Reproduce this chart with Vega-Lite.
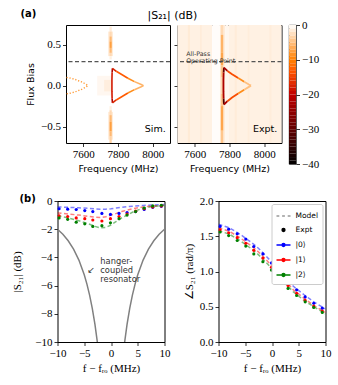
{
"$schema": "https://vega.github.io/schema/vega-lite/v6.json",
"background": "white",
"padding": {"left": 10.5, "top": 8, "right": 0, "bottom": 0},
"config": {
 "view": {"stroke": "black", "strokeWidth": 1},
 "axis": {"domain": false, "grid": false, "tickColor": "black", "tickSize": 3.5, "tickWidth": 0.8, "labelFont": "Liberation Serif", "labelFontSize": 11, "labelColor": "black", "labelPadding": 2, "labelFlush": false, "labelOverlap": false, "titleFont": "DejaVu Sans", "titleFontSize": 9.5, "titleFontWeight": "normal", "titleColor": "black", "titlePadding": 4},
 "text": {"font": "DejaVu Sans"}
},
"datasets": {
 "cbar": [
  {"c0":-40,"c1":-39,"db":-39.5},{"c0":-39,"c1":-38,"db":-38.5},{"c0":-38,"c1":-37,"db":-37.5},{"c0":-37,"c1":-36,"db":-36.5},
  {"c0":-36,"c1":-35,"db":-35.5},{"c0":-35,"c1":-34,"db":-34.5},{"c0":-34,"c1":-33,"db":-33.5},{"c0":-33,"c1":-32,"db":-32.5},
  {"c0":-32,"c1":-31,"db":-31.5},{"c0":-31,"c1":-30,"db":-30.5},{"c0":-30,"c1":-29,"db":-29.5},{"c0":-29,"c1":-28,"db":-28.5},
  {"c0":-28,"c1":-27,"db":-27.5},{"c0":-27,"c1":-26,"db":-26.5},{"c0":-26,"c1":-25,"db":-25.5},{"c0":-25,"c1":-24,"db":-24.5},
  {"c0":-24,"c1":-23,"db":-23.5},{"c0":-23,"c1":-22,"db":-22.5},{"c0":-22,"c1":-21,"db":-21.5},{"c0":-21,"c1":-20,"db":-20.5},
  {"c0":-20,"c1":-19,"db":-19.5},{"c0":-19,"c1":-18,"db":-18.5},{"c0":-18,"c1":-17,"db":-17.5},{"c0":-17,"c1":-16,"db":-16.5},
  {"c0":-16,"c1":-15,"db":-15.5},{"c0":-15,"c1":-14,"db":-14.5},{"c0":-14,"c1":-13,"db":-13.5},{"c0":-13,"c1":-12,"db":-12.5},
  {"c0":-12,"c1":-11,"db":-11.5},{"c0":-11,"c1":-10,"db":-10.5},{"c0":-10,"c1":-9,"db":-9.5},{"c0":-9,"c1":-8,"db":-8.5},
  {"c0":-8,"c1":-7,"db":-7.5},{"c0":-7,"c1":-6,"db":-6.5},{"c0":-6,"c1":-5,"db":-5.5},{"c0":-5,"c1":-4,"db":-4.5},
  {"c0":-4,"c1":-3,"db":-3.5},{"c0":-3,"c1":-2,"db":-2.5},{"c0":-2,"c1":-1,"db":-1.5},{"c0":-1,"c1":0,"db":-0.5}
 ],
 "heat": [
  {"p":"Sim","f":7680,"f1":7762,"fl":-0.12,"fl1":0.12,"db":-0.6},
  {"p":"Sim","f":7720,"f1":7762,"fl":-0.07,"fl1":0.07,"db":-1.3},
  {"p":"Sim","f":7743,"f1":7771,"fl":0.36,"fl1":0.66,"db":-1.5},
  {"p":"Sim","f":7751,"f1":7764,"fl":0.66,"fl1":0.72,"db":-1.5},
  {"p":"Sim","f":7751,"f1":7764,"fl":0.60,"fl1":0.66,"db":-3},
  {"p":"Sim","f":7751,"f1":7764,"fl":0.54,"fl1":0.60,"db":-5.5},
  {"p":"Sim","f":7751,"f1":7764,"fl":0.46,"fl1":0.54,"db":-7.5},
  {"p":"Sim","f":7751,"f1":7764,"fl":0.40,"fl1":0.46,"db":-5.5},
  {"p":"Sim","f":7751,"f1":7764,"fl":0.36,"fl1":0.40,"db":-3},
  {"p":"Sim","f":7751,"f1":7764,"fl":0.32,"fl1":0.36,"db":-1.2},
  {"p":"Sim","f":7743,"f1":7771,"fl":-0.66,"fl1":-0.32,"db":-1.5},
  {"p":"Sim","f":7751,"f1":7764,"fl":-0.30,"fl1":-0.25,"db":-1.2},
  {"p":"Sim","f":7751,"f1":7764,"fl":-0.36,"fl1":-0.30,"db":-3},
  {"p":"Sim","f":7751,"f1":7764,"fl":-0.44,"fl1":-0.36,"db":-5.5},
  {"p":"Sim","f":7751,"f1":7764,"fl":-0.56,"fl1":-0.44,"db":-7.5},
  {"p":"Sim","f":7751,"f1":7764,"fl":-0.62,"fl1":-0.56,"db":-5.5},
  {"p":"Sim","f":7751,"f1":7764,"fl":-0.70,"fl1":-0.62,"db":-3.5},
  {"p":"Expt","f":7500,"f1":7700,"fl":-0.7,"fl1":0.74,"db":-1.1},
  {"p":"Expt","f":7700,"f1":7745,"fl":-0.7,"fl1":0.74,"db":-0.2},
  {"p":"Expt","f":7745,"f1":7775,"fl":-0.7,"fl1":0.74,"db":-1.5},
  {"p":"Expt","f":7775,"f1":7795,"fl":-0.7,"fl1":0.74,"db":-0.7},
  {"p":"Expt","f":7795,"f1":8100,"fl":-0.7,"fl1":0.74,"db":-1.1},
  {"p":"Expt","f":7560,"f1":7572,"fl":-0.7,"fl1":0.74,"db":-1.6},
  {"p":"Expt","f":7630,"f1":7640,"fl":-0.7,"fl1":0.74,"db":-1.5},
  {"p":"Expt","f":7830,"f1":7842,"fl":-0.7,"fl1":0.74,"db":-1.5},
  {"p":"Expt","f":7905,"f1":7915,"fl":-0.7,"fl1":0.74,"db":-1.4},
  {"p":"Expt","f":8030,"f1":8042,"fl":-0.7,"fl1":0.74,"db":-1.4},
  {"p":"Expt","f":7750,"f1":7764,"fl":0.62,"fl1":0.74,"db":-3},
  {"p":"Expt","f":7750,"f1":7764,"fl":0.40,"fl1":0.62,"db":-6},
  {"p":"Expt","f":7750,"f1":7764,"fl":0.25,"fl1":0.40,"db":-7},
  {"p":"Expt","f":7750,"f1":7764,"fl":0.10,"fl1":0.25,"db":-4.5},
  {"p":"Expt","f":7750,"f1":7764,"fl":-0.10,"fl1":0.10,"db":-3},
  {"p":"Expt","f":7750,"f1":7764,"fl":-0.25,"fl1":-0.10,"db":-4.5},
  {"p":"Expt","f":7750,"f1":7764,"fl":-0.55,"fl1":-0.25,"db":-7},
  {"p":"Expt","f":7750,"f1":7764,"fl":-0.70,"fl1":-0.55,"db":-4.5}
 ],
 "tri": [
  {"p":"Sim","seg":"vt","o":1,"f":7768,"fl":0.21,"db":-22},
  {"p":"Sim","seg":"vt","o":2,"f":7766,"fl":0.16,"db":-22},
  {"p":"Sim","seg":"v","o":3,"f":7766,"fl":0.16,"db":-18},
  {"p":"Sim","seg":"v","o":4,"f":7765,"fl":0.07,"db":-18},
  {"p":"Sim","seg":"v","o":5,"f":7765,"fl":-0.07,"db":-18},
  {"p":"Sim","seg":"v","o":6,"f":7766,"fl":-0.16,"db":-18},
  {"p":"Sim","seg":"vb","o":7,"f":7766,"fl":-0.16,"db":-22},
  {"p":"Sim","seg":"vb","o":8,"f":7768,"fl":-0.21,"db":-22},
  {"p":"Sim","seg":"u1","o":9,"f":7768,"fl":0.21,"db":-17},
  {"p":"Sim","seg":"u1","o":10,"f":7790,"fl":0.175,"db":-17},
  {"p":"Sim","seg":"u2","o":11,"f":7790,"fl":0.175,"db":-13},
  {"p":"Sim","seg":"u2","o":12,"f":7819,"fl":0.139,"db":-13},
  {"p":"Sim","seg":"u2","o":13,"f":7857,"fl":0.09,"db":-13},
  {"p":"Sim","seg":"u3","o":14,"f":7857,"fl":0.09,"db":-9},
  {"p":"Sim","seg":"u3","o":15,"f":7895,"fl":0.049,"db":-9},
  {"p":"Sim","seg":"u4","o":16,"f":7895,"fl":0.049,"db":-6},
  {"p":"Sim","seg":"u4","o":17,"f":7934,"fl":0.013,"db":-6},
  {"p":"Sim","seg":"u4","o":18,"f":7947,"fl":0,"db":-6},
  {"p":"Sim","seg":"l1","o":19,"f":7768,"fl":-0.21,"db":-17},
  {"p":"Sim","seg":"l1","o":20,"f":7790,"fl":-0.175,"db":-17},
  {"p":"Sim","seg":"l2","o":21,"f":7790,"fl":-0.175,"db":-13},
  {"p":"Sim","seg":"l2","o":22,"f":7819,"fl":-0.139,"db":-13},
  {"p":"Sim","seg":"l2","o":23,"f":7857,"fl":-0.09,"db":-13},
  {"p":"Sim","seg":"l3","o":24,"f":7857,"fl":-0.09,"db":-9},
  {"p":"Sim","seg":"l3","o":25,"f":7895,"fl":-0.049,"db":-9},
  {"p":"Sim","seg":"l4","o":26,"f":7895,"fl":-0.049,"db":-6},
  {"p":"Sim","seg":"l4","o":27,"f":7934,"fl":-0.013,"db":-6},
  {"p":"Sim","seg":"l4","o":28,"f":7947,"fl":0,"db":-6},
  {"p":"Expt","seg":"vt","o":1,"f":7768,"fl":0.22,"db":-30},
  {"p":"Expt","seg":"vt","o":2,"f":7766,"fl":0.16,"db":-30},
  {"p":"Expt","seg":"v","o":3,"f":7766,"fl":0.16,"db":-22},
  {"p":"Expt","seg":"v","o":4,"f":7765,"fl":0.07,"db":-22},
  {"p":"Expt","seg":"v","o":5,"f":7765,"fl":-0.07,"db":-22},
  {"p":"Expt","seg":"v","o":6,"f":7766,"fl":-0.16,"db":-22},
  {"p":"Expt","seg":"vb","o":7,"f":7766,"fl":-0.16,"db":-32},
  {"p":"Expt","seg":"vb","o":8,"f":7768,"fl":-0.23,"db":-32},
  {"p":"Expt","seg":"u1","o":9,"f":7768,"fl":0.22,"db":-22},
  {"p":"Expt","seg":"u1","o":10,"f":7788,"fl":0.18,"db":-22},
  {"p":"Expt","seg":"u2","o":11,"f":7788,"fl":0.18,"db":-14},
  {"p":"Expt","seg":"u2","o":12,"f":7815,"fl":0.14,"db":-14},
  {"p":"Expt","seg":"u2","o":13,"f":7850,"fl":0.092,"db":-14},
  {"p":"Expt","seg":"u3","o":14,"f":7850,"fl":0.092,"db":-9},
  {"p":"Expt","seg":"u3","o":15,"f":7885,"fl":0.048,"db":-9},
  {"p":"Expt","seg":"u4","o":16,"f":7885,"fl":0.048,"db":-5},
  {"p":"Expt","seg":"u4","o":17,"f":7912,"fl":0.014,"db":-5},
  {"p":"Expt","seg":"u4","o":18,"f":7924,"fl":0,"db":-5},
  {"p":"Expt","seg":"l1","o":19,"f":7768,"fl":-0.23,"db":-22},
  {"p":"Expt","seg":"l1","o":20,"f":7788,"fl":-0.19,"db":-22},
  {"p":"Expt","seg":"l2","o":21,"f":7788,"fl":-0.19,"db":-14},
  {"p":"Expt","seg":"l2","o":22,"f":7815,"fl":-0.145,"db":-14},
  {"p":"Expt","seg":"l2","o":23,"f":7850,"fl":-0.095,"db":-14},
  {"p":"Expt","seg":"l3","o":24,"f":7850,"fl":-0.095,"db":-9},
  {"p":"Expt","seg":"l3","o":25,"f":7885,"fl":-0.05,"db":-9},
  {"p":"Expt","seg":"l4","o":26,"f":7885,"fl":-0.05,"db":-5},
  {"p":"Expt","seg":"l4","o":27,"f":7912,"fl":-0.015,"db":-5},
  {"p":"Expt","seg":"l4","o":28,"f":7924,"fl":0,"db":-5}
 ],
 "dot": [
  {"o":1,"f":7503,"fl":0.10,"db":-8},
  {"o":2,"f":7530,"fl":0.09,"db":-8},
  {"o":3,"f":7560,"fl":0.07,"db":-8},
  {"o":4,"f":7590,"fl":0.045,"db":-8},
  {"o":5,"f":7615,"fl":0.018,"db":-8},
  {"o":6,"f":7627,"fl":0,"db":-8},
  {"o":7,"f":7615,"fl":-0.018,"db":-8},
  {"o":8,"f":7590,"fl":-0.045,"db":-8},
  {"o":9,"f":7560,"fl":-0.07,"db":-8},
  {"o":10,"f":7530,"fl":-0.09,"db":-8},
  {"o":11,"f":7503,"fl":-0.10,"db":-8}
 ],
 "ann": [
  {"p":"Sim","k":"lbl","f":8075,"fl":-0.53,"t":"Sim."},
  {"p":"Sim","k":"a","f":7237,"fl":0.874,"t":"(a)"},
  {"p":"Sim","k":"title","f":8114,"fl":0.853,"t":"|S₂₁| (dB)"},
  {"p":"Expt","k":"lbl","f":8076,"fl":-0.53,"t":"Expt."},
  {"p":"Expt","k":"ap","f":7550,"fl":0.383,"t":"All-Pass\nOperating Point"}
 ],
 "hang": [
  {"b":"L","x":-10,"m":-2.0},{"b":"L","x":-9,"m":-2.361},{"b":"L","x":-8,"m":-2.82},{"b":"L","x":-7,"m":-3.412},
  {"b":"L","x":-6,"m":-4.191},{"b":"L","x":-5,"m":-5.238},{"b":"L","x":-4.5,"m":-5.898},{"b":"L","x":-4,"m":-6.68},
  {"b":"L","x":-3.5,"m":-7.616},{"b":"L","x":-3,"m":-8.751},{"b":"L","x":-2.5,"m":-10.154},{"b":"L","x":-2,"m":-11.94},
  {"b":"R","x":2,"m":-11.94},{"b":"R","x":2.5,"m":-10.154},{"b":"R","x":3,"m":-8.751},{"b":"R","x":3.5,"m":-7.616},
  {"b":"R","x":4,"m":-6.68},{"b":"R","x":4.5,"m":-5.898},{"b":"R","x":5,"m":-5.238},{"b":"R","x":6,"m":-4.191},
  {"b":"R","x":7,"m":-3.412},{"b":"R","x":8,"m":-2.82},{"b":"R","x":9,"m":-2.361},{"b":"R","x":10,"m":-2.0}
 ],
 "model": [
  {"s":"|0⟩","x":-10,"m":-0.42,"ph":1.67},{"s":"|0⟩","x":-8,"m":-0.45,"ph":1.62},{"s":"|0⟩","x":-6,"m":-0.48,"ph":1.53},
  {"s":"|0⟩","x":-4,"m":-0.53,"ph":1.42},{"s":"|0⟩","x":-3,"m":-0.56,"ph":1.36},{"s":"|0⟩","x":-2,"m":-0.58,"ph":1.29},
  {"s":"|0⟩","x":-1,"m":-0.58,"ph":1.21},{"s":"|0⟩","x":0,"m":-0.55,"ph":1.13},{"s":"|0⟩","x":1,"m":-0.5,"ph":1.05},
  {"s":"|0⟩","x":2,"m":-0.45,"ph":0.96},{"s":"|0⟩","x":4,"m":-0.37,"ph":0.79},{"s":"|0⟩","x":6,"m":-0.32,"ph":0.67},
  {"s":"|0⟩","x":8,"m":-0.28,"ph":0.56},{"s":"|0⟩","x":10,"m":-0.25,"ph":0.47},
  {"s":"|1⟩","x":-10,"m":-0.85,"ph":1.62},{"s":"|1⟩","x":-8,"m":-0.92,"ph":1.57},{"s":"|1⟩","x":-6,"m":-1.0,"ph":1.48},
  {"s":"|1⟩","x":-4,"m":-1.1,"ph":1.37},{"s":"|1⟩","x":-3,"m":-1.15,"ph":1.31},{"s":"|1⟩","x":-2,"m":-1.17,"ph":1.24},
  {"s":"|1⟩","x":-1,"m":-1.12,"ph":1.16},{"s":"|1⟩","x":0,"m":-1.0,"ph":1.08},{"s":"|1⟩","x":1,"m":-0.88,"ph":1.0},
  {"s":"|1⟩","x":2,"m":-0.75,"ph":0.91},{"s":"|1⟩","x":4,"m":-0.55,"ph":0.74},{"s":"|1⟩","x":6,"m":-0.42,"ph":0.62},
  {"s":"|1⟩","x":8,"m":-0.35,"ph":0.51},{"s":"|1⟩","x":10,"m":-0.3,"ph":0.42},
  {"s":"|2⟩","x":-10,"m":-1.05,"ph":1.58},{"s":"|2⟩","x":-8,"m":-1.2,"ph":1.53},{"s":"|2⟩","x":-6,"m":-1.4,"ph":1.44},
  {"s":"|2⟩","x":-4,"m":-1.65,"ph":1.33},{"s":"|2⟩","x":-3,"m":-1.8,"ph":1.27},{"s":"|2⟩","x":-2,"m":-1.9,"ph":1.2},
  {"s":"|2⟩","x":-1,"m":-1.88,"ph":1.12},{"s":"|2⟩","x":0,"m":-1.7,"ph":1.04},{"s":"|2⟩","x":1,"m":-1.45,"ph":0.96},
  {"s":"|2⟩","x":2,"m":-1.2,"ph":0.87},{"s":"|2⟩","x":4,"m":-0.8,"ph":0.71},{"s":"|2⟩","x":6,"m":-0.5,"ph":0.59},
  {"s":"|2⟩","x":8,"m":-0.38,"ph":0.49},{"s":"|2⟩","x":10,"m":-0.32,"ph":0.4}
 ],
 "pts": [
  {"s":"|0⟩","x":-9.7,"m":-0.55,"ph":1.64},{"s":"|0⟩","x":-8.1,"m":-0.58,"ph":1.6},{"s":"|0⟩","x":-6.5,"m":-0.6,"ph":1.535},
  {"s":"|0⟩","x":-4.9,"m":-0.68,"ph":1.46},{"s":"|0⟩","x":-3.4,"m":-0.75,"ph":1.355},{"s":"|0⟩","x":-1.7,"m":-0.88,"ph":1.25},
  {"s":"|0⟩","x":-0.1,"m":-0.95,"ph":1.12},{"s":"|0⟩","x":1.5,"m":-0.88,"ph":0.99},{"s":"|0⟩","x":3.0,"m":-0.82,"ph":0.86},
  {"s":"|0⟩","x":4.6,"m":-0.75,"ph":0.74},{"s":"|0⟩","x":6.2,"m":-0.6,"ph":0.64},{"s":"|0⟩","x":7.8,"m":-0.45,"ph":0.55},
  {"s":"|0⟩","x":9.4,"m":-0.38,"ph":0.48},
  {"s":"|1⟩","x":-9.7,"m":-1.05,"ph":1.59},{"s":"|1⟩","x":-8.1,"m":-1.1,"ph":1.55},{"s":"|1⟩","x":-6.5,"m":-1.2,"ph":1.48},
  {"s":"|1⟩","x":-4.9,"m":-1.25,"ph":1.4},{"s":"|1⟩","x":-3.4,"m":-1.35,"ph":1.3},{"s":"|1⟩","x":-1.7,"m":-1.42,"ph":1.19},
  {"s":"|1⟩","x":-0.1,"m":-1.25,"ph":1.06},{"s":"|1⟩","x":1.5,"m":-1.1,"ph":0.93},{"s":"|1⟩","x":3.0,"m":-0.92,"ph":0.8},
  {"s":"|1⟩","x":4.6,"m":-0.72,"ph":0.69},{"s":"|1⟩","x":6.2,"m":-0.55,"ph":0.59},{"s":"|1⟩","x":7.8,"m":-0.42,"ph":0.51},
  {"s":"|1⟩","x":9.4,"m":-0.35,"ph":0.44},
  {"s":"|2⟩","x":-9.7,"m":-1.2,"ph":1.56},{"s":"|2⟩","x":-8.1,"m":-1.3,"ph":1.51},{"s":"|2⟩","x":-6.5,"m":-1.5,"ph":1.44},
  {"s":"|2⟩","x":-4.9,"m":-1.62,"ph":1.36},{"s":"|2⟩","x":-3.4,"m":-1.8,"ph":1.25},{"s":"|2⟩","x":-1.7,"m":-1.75,"ph":1.14},
  {"s":"|2⟩","x":-0.1,"m":-1.55,"ph":1.02},{"s":"|2⟩","x":1.5,"m":-1.25,"ph":0.89},{"s":"|2⟩","x":3.0,"m":-1.0,"ph":0.76},
  {"s":"|2⟩","x":4.6,"m":-0.75,"ph":0.66},{"s":"|2⟩","x":6.2,"m":-0.5,"ph":0.57},{"s":"|2⟩","x":7.8,"m":-0.35,"ph":0.49},
  {"s":"|2⟩","x":9.4,"m":-0.3,"ph":0.42}
 ],
 "annb": [
  {"k":"h","x":-2.0,"m":-4.3,"t":"hanger-\ncoupled\nresonator"},
  {"k":"arr","x":-3.75,"m":-4.9,"t":"↙"},
  {"k":"b","x":-17.1,"m":0.16,"t":"(b)"}
 ]
},
"resolve": {"scale": {"color": "independent", "fill": "independent", "stroke": "independent", "shape": "independent"}},
"columns": 1,
"spacing": 19,
"concat": [
 {
  "bounds": "flush",
  "spacing": 7.5,
  "hconcat": [
   {"width": 1, "height": 118, "data": {"values": []}, "mark": "point", "view": {"stroke": null}},
   {
    "width": 104, "height": 118,
    "layer": [
     {"data": {"name": "heat"}, "transform": [{"filter": "datum.p == 'Sim'"}], "mark": "rect",
      "encoding": {
       "x": {"field": "f", "type": "quantitative", "scale": {"domain": [7500, 8100], "nice": false, "zero": false}, "axis": {"values": [7600, 7800, 8000], "format": "d", "title": "Frequency (MHz)"}},
       "x2": {"field": "f1"},
       "y": {"field": "fl", "type": "quantitative", "scale": {"domain": [-0.7, 0.74], "nice": false, "zero": false}, "axis": {"values": [-0.5, 0, 0.5], "format": ".1f", "title": "Flux Bias", "titlePadding": 5}},
       "y2": {"field": "fl1"},
       "color": {"field": "db", "type": "quantitative", "scale": {"domain": [-40, -20, -13.33, -10, 0], "range": ["#000000", "#bf0000", "#ff5500", "#ff8000", "#ffffff"], "interpolate": "rgb", "clamp": true}, "legend": null}
      }},
     {"data": {"name": "tri"}, "transform": [{"filter": "datum.p == 'Sim'"}], "mark": {"type": "line", "strokeWidth": 1.6},
      "encoding": {
       "x": {"field": "f", "type": "quantitative", "scale": {"domain": [7500, 8100], "nice": false, "zero": false}, "axis": {"values": [7600, 7800, 8000], "format": "d", "title": "Frequency (MHz)"}},
       "y": {"field": "fl", "type": "quantitative", "scale": {"domain": [-0.7, 0.74], "nice": false, "zero": false}, "axis": {"values": [-0.5, 0, 0.5], "format": ".1f", "title": "Flux Bias", "titlePadding": 5}},
       "stroke": {"field": "db", "type": "quantitative", "scale": {"domain": [-40, -20, -13.33, -10, 0], "range": ["#000000", "#bf0000", "#ff5500", "#ff8000", "#ffffff"], "interpolate": "rgb", "clamp": true}, "legend": null},
       "detail": {"field": "seg"},
       "order": {"field": "o"}
      }},
     {"data": {"name": "dot"}, "mark": {"type": "line", "strokeWidth": 1.4, "strokeDash": [1.2, 1.8]},
      "encoding": {
       "x": {"field": "f", "type": "quantitative", "scale": {"domain": [7500, 8100], "nice": false, "zero": false}, "axis": {"values": [7600, 7800, 8000], "format": "d", "title": "Frequency (MHz)"}},
       "y": {"field": "fl", "type": "quantitative", "scale": {"domain": [-0.7, 0.74], "nice": false, "zero": false}, "axis": {"values": [-0.5, 0, 0.5], "format": ".1f", "title": "Flux Bias", "titlePadding": 5}},
       "stroke": {"field": "db", "type": "quantitative", "scale": {"domain": [-40, -20, -13.33, -10, 0], "range": ["#000000", "#bf0000", "#ff5500", "#ff8000", "#ffffff"], "interpolate": "rgb", "clamp": true}, "legend": null},
       "order": {"field": "o"}
      }},
     {"data": {"values": [{}]}, "mark": {"type": "rule", "color": "#555555", "strokeWidth": 1.2, "strokeDash": [4, 2.5]},
      "encoding": {"y": {"datum": 0.293, "type": "quantitative", "scale": {"domain": [-0.7, 0.74], "nice": false, "zero": false}, "axis": {"values": [-0.5, 0, 0.5], "format": ".1f", "title": "Flux Bias", "titlePadding": 5}}}},
     {"data": {"name": "ann"}, "transform": [{"filter": "datum.p == 'Sim' && datum.k == 'lbl'"}], "mark": {"type": "text", "align": "right", "baseline": "middle", "fontSize": 9.5, "color": "black"},
      "encoding": {
       "x": {"field": "f", "type": "quantitative", "scale": {"domain": [7500, 8100], "nice": false, "zero": false}, "axis": {"values": [7600, 7800, 8000], "format": "d", "title": "Frequency (MHz)"}},
       "y": {"field": "fl", "type": "quantitative", "scale": {"domain": [-0.7, 0.74], "nice": false, "zero": false}, "axis": {"values": [-0.5, 0, 0.5], "format": ".1f", "title": "Flux Bias", "titlePadding": 5}},
       "text": {"field": "t"}}},
     {"data": {"name": "ann"}, "transform": [{"filter": "datum.k == 'a'"}], "mark": {"type": "text", "align": "left", "baseline": "middle", "fontSize": 10, "fontWeight": "bold", "color": "black"},
      "encoding": {
       "x": {"field": "f", "type": "quantitative", "scale": {"domain": [7500, 8100], "nice": false, "zero": false}, "axis": {"values": [7600, 7800, 8000], "format": "d", "title": "Frequency (MHz)"}},
       "y": {"field": "fl", "type": "quantitative", "scale": {"domain": [-0.7, 0.74], "nice": false, "zero": false}, "axis": {"values": [-0.5, 0, 0.5], "format": ".1f", "title": "Flux Bias", "titlePadding": 5}},
       "text": {"field": "t"}}},
     {"data": {"name": "ann"}, "transform": [{"filter": "datum.k == 'title'"}], "mark": {"type": "text", "align": "center", "baseline": "middle", "fontSize": 11, "color": "black"},
      "encoding": {
       "x": {"field": "f", "type": "quantitative", "scale": {"domain": [7500, 8100], "nice": false, "zero": false}, "axis": {"values": [7600, 7800, 8000], "format": "d", "title": "Frequency (MHz)"}},
       "y": {"field": "fl", "type": "quantitative", "scale": {"domain": [-0.7, 0.74], "nice": false, "zero": false}, "axis": {"values": [-0.5, 0, 0.5], "format": ".1f", "title": "Flux Bias", "titlePadding": 5}},
       "text": {"field": "t"}}}
    ]
   },
   {
    "width": 104, "height": 118,
    "layer": [
     {"data": {"name": "heat"}, "transform": [{"filter": "datum.p == 'Expt'"}], "mark": "rect",
      "encoding": {
       "x": {"field": "f", "type": "quantitative", "scale": {"domain": [7500, 8100], "nice": false, "zero": false}, "axis": {"values": [7600, 7800, 8000], "format": "d", "title": "Frequency (MHz)"}},
       "x2": {"field": "f1"},
       "y": {"field": "fl", "type": "quantitative", "scale": {"domain": [-0.7, 0.74], "nice": false, "zero": false}, "axis": {"values": [-0.5, 0, 0.5], "labels": false, "title": null}},
       "y2": {"field": "fl1"},
       "color": {"field": "db", "type": "quantitative", "scale": {"domain": [-40, -20, -13.33, -10, 0], "range": ["#000000", "#bf0000", "#ff5500", "#ff8000", "#ffffff"], "interpolate": "rgb", "clamp": true}, "legend": null}
      }},
     {"data": {"name": "tri"}, "transform": [{"filter": "datum.p == 'Expt'"}], "mark": {"type": "line", "strokeWidth": 1.8},
      "encoding": {
       "x": {"field": "f", "type": "quantitative", "scale": {"domain": [7500, 8100], "nice": false, "zero": false}, "axis": {"values": [7600, 7800, 8000], "format": "d", "title": "Frequency (MHz)"}},
       "y": {"field": "fl", "type": "quantitative", "scale": {"domain": [-0.7, 0.74], "nice": false, "zero": false}, "axis": {"values": [-0.5, 0, 0.5], "labels": false, "title": null}},
       "stroke": {"field": "db", "type": "quantitative", "scale": {"domain": [-40, -20, -13.33, -10, 0], "range": ["#000000", "#bf0000", "#ff5500", "#ff8000", "#ffffff"], "interpolate": "rgb", "clamp": true}, "legend": null},
       "detail": {"field": "seg"},
       "order": {"field": "o"}
      }},
     {"data": {"values": [{}]}, "mark": {"type": "rule", "color": "#555555", "strokeWidth": 1.2, "strokeDash": [4, 2.5]},
      "encoding": {"y": {"datum": 0.293, "type": "quantitative", "scale": {"domain": [-0.7, 0.74], "nice": false, "zero": false}, "axis": {"values": [-0.5, 0, 0.5], "labels": false, "title": null}}}},
     {"data": {"name": "ann"}, "transform": [{"filter": "datum.p == 'Expt' && datum.k == 'lbl'"}], "mark": {"type": "text", "align": "right", "baseline": "middle", "fontSize": 9.5, "color": "black"},
      "encoding": {
       "x": {"field": "f", "type": "quantitative", "scale": {"domain": [7500, 8100], "nice": false, "zero": false}, "axis": {"values": [7600, 7800, 8000], "format": "d", "title": "Frequency (MHz)"}},
       "y": {"field": "fl", "type": "quantitative", "scale": {"domain": [-0.7, 0.74], "nice": false, "zero": false}, "axis": {"values": [-0.5, 0, 0.5], "labels": false, "title": null}},
       "text": {"field": "t"}}},
     {"data": {"name": "ann"}, "transform": [{"filter": "datum.k == 'ap'"}], "mark": {"type": "text", "align": "left", "baseline": "middle", "fontSize": 6.3, "lineHeight": 6.5, "lineBreak": "\n", "color": "#333333"},
      "encoding": {
       "x": {"field": "f", "type": "quantitative", "scale": {"domain": [7500, 8100], "nice": false, "zero": false}, "axis": {"values": [7600, 7800, 8000], "format": "d", "title": "Frequency (MHz)"}},
       "y": {"field": "fl", "type": "quantitative", "scale": {"domain": [-0.7, 0.74], "nice": false, "zero": false}, "axis": {"values": [-0.5, 0, 0.5], "labels": false, "title": null}},
       "text": {"field": "t"}}}
    ]
   },
   {
    "width": 7, "height": 139,
    "data": {"name": "cbar"},
    "view": {"stroke": "black", "strokeWidth": 0.8},
    "mark": "rect",
    "encoding": {
     "y": {"field": "c0", "type": "quantitative", "scale": {"domain": [-40, 0], "nice": false, "zero": false}, "axis": {"orient": "right", "values": [0, -10, -20, -30, -40], "format": "d", "title": null}},
     "y2": {"field": "c1"},
     "color": {"field": "db", "type": "quantitative", "scale": {"domain": [-40, -20, -13.33, -10, 0], "range": ["#000000", "#bf0000", "#ff5500", "#ff8000", "#ffffff"], "interpolate": "rgb", "clamp": true}, "legend": null}
    }
   }
  ]
 },
 {
  "bounds": "flush",
  "spacing": 54,
  "resolve": {"scale": {"fill": "independent", "stroke": "independent", "shape": "independent"}},
  "hconcat": [
   {
    "width": 107, "height": 141,
    "layer": [
     {"data": {"name": "hang"}, "mark": {"type": "line", "color": "#808080", "strokeWidth": 1.5, "clip": true},
      "encoding": {
       "x": {"field": "x", "type": "quantitative", "scale": {"domain": [-10, 10], "nice": false}, "axis": {"values": [-10, -5, 0, 5, 10], "format": "d", "title": "f − fᵣₒ (MHz)", "titleFont": "Liberation Serif", "titleFontSize": 11}},
       "y": {"field": "m", "type": "quantitative", "scale": {"domain": [-10, 0], "nice": false}, "axis": {"values": [0, -2, -4, -6, -8, -10], "format": "d", "title": "|S₂₁| (dB)", "titleFont": "Liberation Serif", "titleFontSize": 11, "titlePadding": 12}},
       "detail": {"field": "b"}}},
     {"data": {"name": "model"}, "mark": {"type": "line", "strokeWidth": 1.5, "strokeDash": [4, 2.5], "opacity": 0.5, "clip": true},
      "encoding": {
       "x": {"field": "x", "type": "quantitative", "scale": {"domain": [-10, 10], "nice": false}, "axis": {"values": [-10, -5, 0, 5, 10], "format": "d", "title": "f − fᵣₒ (MHz)", "titleFont": "Liberation Serif", "titleFontSize": 11}},
       "y": {"field": "m", "type": "quantitative", "scale": {"domain": [-10, 0], "nice": false}, "axis": {"values": [0, -2, -4, -6, -8, -10], "format": "d", "title": "|S₂₁| (dB)", "titleFont": "Liberation Serif", "titleFontSize": 11, "titlePadding": 12}},
       "color": {"field": "s", "type": "nominal", "scale": {"domain": ["|0⟩", "|1⟩", "|2⟩"], "range": ["#0000ff", "#ff0000", "#008000"]}, "legend": null}}},
     {"data": {"name": "pts"}, "mark": {"type": "circle", "size": 10, "opacity": 1},
      "encoding": {
       "x": {"field": "x", "type": "quantitative", "scale": {"domain": [-10, 10], "nice": false}, "axis": {"values": [-10, -5, 0, 5, 10], "format": "d", "title": "f − fᵣₒ (MHz)", "titleFont": "Liberation Serif", "titleFontSize": 11}},
       "y": {"field": "m", "type": "quantitative", "scale": {"domain": [-10, 0], "nice": false}, "axis": {"values": [0, -2, -4, -6, -8, -10], "format": "d", "title": "|S₂₁| (dB)", "titleFont": "Liberation Serif", "titleFontSize": 11, "titlePadding": 12}},
       "color": {"field": "s", "type": "nominal", "scale": {"domain": ["|0⟩", "|1⟩", "|2⟩"], "range": ["#0000ff", "#ff0000", "#008000"]}, "legend": null}}},
     {"data": {"name": "annb"}, "transform": [{"filter": "datum.k == 'h'"}], "mark": {"type": "text", "align": "left", "baseline": "middle", "fontSize": 8.3, "lineHeight": 9, "lineBreak": "\n", "color": "#333333"},
      "encoding": {
       "x": {"field": "x", "type": "quantitative", "scale": {"domain": [-10, 10], "nice": false}, "axis": {"values": [-10, -5, 0, 5, 10], "format": "d", "title": "f − fᵣₒ (MHz)", "titleFont": "Liberation Serif", "titleFontSize": 11}},
       "y": {"field": "m", "type": "quantitative", "scale": {"domain": [-10, 0], "nice": false}, "axis": {"values": [0, -2, -4, -6, -8, -10], "format": "d", "title": "|S₂₁| (dB)", "titleFont": "Liberation Serif", "titleFontSize": 11, "titlePadding": 12}},
       "text": {"field": "t"}}},
     {"data": {"name": "annb"}, "transform": [{"filter": "datum.k == 'arr'"}], "mark": {"type": "text", "align": "center", "baseline": "middle", "fontSize": 9, "color": "#333333"},
      "encoding": {
       "x": {"field": "x", "type": "quantitative", "scale": {"domain": [-10, 10], "nice": false}, "axis": {"values": [-10, -5, 0, 5, 10], "format": "d", "title": "f − fᵣₒ (MHz)", "titleFont": "Liberation Serif", "titleFontSize": 11}},
       "y": {"field": "m", "type": "quantitative", "scale": {"domain": [-10, 0], "nice": false}, "axis": {"values": [0, -2, -4, -6, -8, -10], "format": "d", "title": "|S₂₁| (dB)", "titleFont": "Liberation Serif", "titleFontSize": 11, "titlePadding": 12}},
       "text": {"field": "t"}}},
     {"data": {"name": "annb"}, "transform": [{"filter": "datum.k == 'b'"}], "mark": {"type": "text", "align": "left", "baseline": "middle", "fontSize": 10, "fontWeight": "bold", "color": "black"},
      "encoding": {
       "x": {"field": "x", "type": "quantitative", "scale": {"domain": [-10, 10], "nice": false}, "axis": {"values": [-10, -5, 0, 5, 10], "format": "d", "title": "f − fᵣₒ (MHz)", "titleFont": "Liberation Serif", "titleFontSize": 11}},
       "y": {"field": "m", "type": "quantitative", "scale": {"domain": [-10, 0], "nice": false}, "axis": {"values": [0, -2, -4, -6, -8, -10], "format": "d", "title": "|S₂₁| (dB)", "titleFont": "Liberation Serif", "titleFontSize": 11, "titlePadding": 12}},
       "text": {"field": "t"}}}
    ]
   },
   {
    "width": 107, "height": 141,
    "layer": [
     {"data": {"name": "model"}, "mark": {"type": "line", "strokeWidth": 1.5, "strokeDash": [4, 2.5], "opacity": 0.5, "clip": true},
      "encoding": {
       "x": {"field": "x", "type": "quantitative", "scale": {"domain": [-10, 10], "nice": false}, "axis": {"values": [-10, -5, 0, 5, 10], "format": "d", "title": "f − fᵣₒ (MHz)", "titleFont": "Liberation Serif", "titleFontSize": 11}},
       "y": {"field": "ph", "type": "quantitative", "scale": {"domain": [0, 2], "nice": false}, "axis": {"values": [0, 0.5, 1, 1.5, 2], "format": ".1f", "title": "∠S₂₁ (rad/π)", "titleFont": "Liberation Serif", "titleFontSize": 11, "titlePadding": 5}},
       "color": {"field": "s", "type": "nominal", "scale": {"domain": ["|0⟩", "|1⟩", "|2⟩"], "range": ["#0000ff", "#ff0000", "#008000"]}, "legend": null}}},
     {"data": {"name": "pts"}, "mark": {"type": "circle", "size": 10, "opacity": 1},
      "encoding": {
       "x": {"field": "x", "type": "quantitative", "scale": {"domain": [-10, 10], "nice": false}, "axis": {"values": [-10, -5, 0, 5, 10], "format": "d", "title": "f − fᵣₒ (MHz)", "titleFont": "Liberation Serif", "titleFontSize": 11}},
       "y": {"field": "ph", "type": "quantitative", "scale": {"domain": [0, 2], "nice": false}, "axis": {"values": [0, 0.5, 1, 1.5, 2], "format": ".1f", "title": "∠S₂₁ (rad/π)", "titleFont": "Liberation Serif", "titleFontSize": 11, "titlePadding": 5}},
       "color": {"field": "s", "type": "nominal", "scale": {"domain": ["|0⟩", "|1⟩", "|2⟩"], "range": ["#0000ff", "#ff0000", "#008000"]}, "legend": null}}},
     {"data": {"values": [{"s": "Model"}, {"s": "Expt"}, {"s": "|0⟩"}, {"s": "|1⟩"}, {"s": "|2⟩"}]}, "mark": {"type": "point", "filled": true, "opacity": 1},
      "encoding": {
       "x": {"field": "x", "type": "quantitative", "scale": {"domain": [-10, 10], "nice": false}, "axis": {"values": [-10, -5, 0, 5, 10], "format": "d", "title": "f − fᵣₒ (MHz)", "titleFont": "Liberation Serif", "titleFontSize": 11}},
       "y": {"field": "ph", "type": "quantitative", "scale": {"domain": [0, 2], "nice": false}, "axis": {"values": [0, 0.5, 1, 1.5, 2], "format": ".1f", "title": "∠S₂₁ (rad/π)", "titleFont": "Liberation Serif", "titleFontSize": 11, "titlePadding": 5}},
       "fill": {"field": "s", "type": "nominal", "scale": {"domain": ["Model", "Expt", "|0⟩", "|1⟩", "|2⟩"], "range": ["#999999", "#000000", "#0000ff", "#ff0000", "#008000"]},
        "legend": {"title": null, "orient": "top-right", "offset": 3, "padding": 4, "strokeColor": "#cccccc", "fillColor": "white", "cornerRadius": 2, "rowPadding": 2, "symbolSize": 196, "symbolStrokeWidth": 1.5, "labelFont": "DejaVu Sans", "labelFontSize": 7.5, "labelColor": "black", "labelOffset": 4}},
       "stroke": {"field": "s", "type": "nominal", "scale": {"domain": ["Model", "Expt", "|0⟩", "|1⟩", "|2⟩"], "range": ["#999999", "#000000", "#0000ff", "#ff0000", "#008000"]}},
       "shape": {"field": "s", "type": "nominal", "scale": {"domain": ["Model", "Expt", "|0⟩", "|1⟩", "|2⟩"], "range": ["M-1,0H-0.6M-0.2,0H0.2M0.6,0H1", "M0.2,0A0.2,0.2,0,1,1,-0.2,0A0.2,0.2,0,1,1,0.2,0Z", "M-1,0H1M0.2,0A0.2,0.2,0,1,1,-0.2,0A0.2,0.2,0,1,1,0.2,0Z", "M-1,0H1M0.2,0A0.2,0.2,0,1,1,-0.2,0A0.2,0.2,0,1,1,0.2,0Z", "M-1,0H1M0.2,0A0.2,0.2,0,1,1,-0.2,0A0.2,0.2,0,1,1,0.2,0Z"]}}
      }}
    ]
   }
  ]
 }
]
}
